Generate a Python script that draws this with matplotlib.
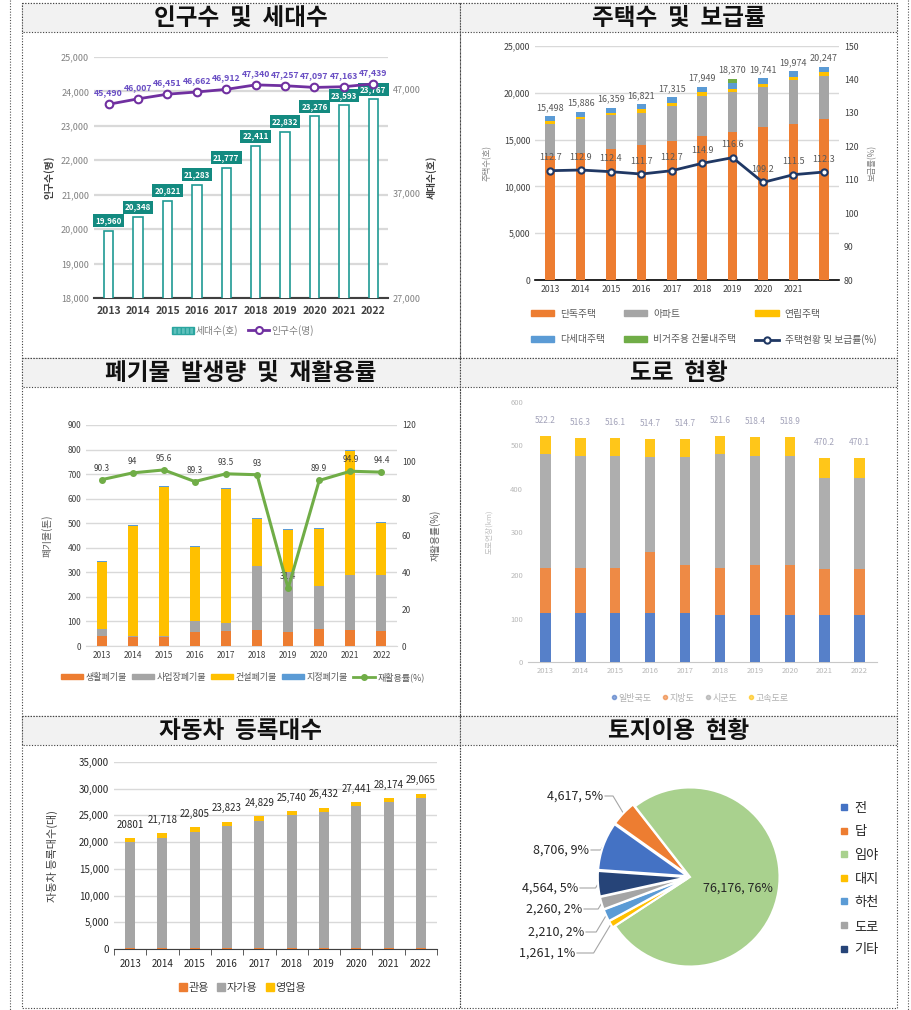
import numpy as np
import matplotlib
matplotlib.use('Agg')
import matplotlib.pyplot as plt
from matplotlib.patches import Rectangle, Patch
from matplotlib.lines import Line2D
from matplotlib.ticker import FuncFormatter

plt.rcParams['font.family'] = ['Noto Sans CJK KR', 'DejaVu Sans']

# ---- data ----
years = ['2013', '2014', '2015', '2016', '2017', '2018', '2019', '2020', '2021', '2022']

# 인구수 및 세대수
households = [19960, 20348, 20821, 21283, 21777, 22411, 22832, 23276, 23593, 23767]
population = [45490, 46007, 46451, 46662, 46912, 47340, 47257, 47097, 47163, 47439]

# 주택수 및 보급률
house_detached = [13245, 13600, 14030, 14380, 14810, 15340, 15770, 16300, 16620, 17150]
house_apt = [3410, 3550, 3550, 3480, 3830, 4330, 4330, 4330, 4790, 4690]
house_row = [355, 290, 280, 390, 320, 390, 355, 360, 320, 390]
house_multi = [500, 530, 535, 535, 570, 610, 565, 565, 570, 530]
house_nonres = [0, 0, 0, 0, 0, 0, 460, 0, 0, 0]
house_total = [15498, 15886, 16359, 16821, 17315, 17949, 18370, 19741, 19974, 20247]
house_rate = [112.7, 112.9, 112.4, 111.7, 112.7, 114.9, 116.6, 109.2, 111.5, 112.3]

# 폐기물 발생량 및 재활용률
waste_home = [41, 35, 38, 56, 60, 65, 58, 69, 66, 62]
waste_biz = [28, 7, 3, 47, 35, 259, 245, 174, 222, 226]
waste_build = [273, 448, 608, 300, 546, 195, 169, 233, 507, 214]
waste_spec = [4, 4, 4, 4, 4, 2, 4, 4, 3, 3]
recycle_rate = [90.3, 94, 95.6, 89.3, 93.5, 93, 31.4, 89.9, 94.9, 94.4]

# 도로 현황
road_national = [113.0, 113.0, 113.0, 113.0, 113.0, 109.5, 109.5, 109.5, 109.5, 109.5]
road_local = [104.0, 104.0, 104.0, 140.0, 112.0, 108.0, 114.0, 114.0, 104.5, 104.5]
road_county = [262.0, 258.0, 258.0, 220.0, 248.0, 262.0, 253.0, 253.0, 210.0, 210.0]
road_express = [43.2, 41.3, 41.1, 41.7, 41.7, 42.1, 41.9, 42.4, 46.2, 46.1]

# 자동차 등록대수
car_gov = [130, 135, 140, 140, 145, 150, 150, 155, 160, 165]
car_private = [19871, 20713, 21795, 22883, 23814, 24910, 25532, 26606, 27334, 28030]
car_business = [800, 870, 870, 800, 870, 680, 750, 680, 680, 870]
car_labels = ['20801', '21,718', '22,805', '23,823', '24,829', '25,740', '26,432', '27,441', '28,174', '29,065']

# 토지이용 현황
land_names = ['전', '답', '임야', '대지', '하천', '도로', '기타']
land_vals = [8706, 4617, 76176, 1261, 2210, 2260, 4564]

# ---- layout helpers ----
W, H = 912, 1010
fig = plt.figure(figsize=(W / 100, H / 100), dpi=100)

def box(x0, y0, x1, y1):
    return [x0 / W, 1 - y1 / H, (x1 - x0) / W, (y1 - y0) / H]

comma = FuncFormatter(lambda v, p: f'{v:,.0f}')
dotted = (0, (1, 1.5))
x = np.arange(len(years))

bg = fig.add_axes([0, 0, 1, 1])
bg.set_xlim(0, W)
bg.set_ylim(H, 0)
bg.axis('off')
bg.plot([10, 10], [0, H], ls=dotted, color='#555555', lw=0.8)
bg.plot([908, 908], [0, H], ls=dotted, color='#555555', lw=0.8)

panels = [(22, 3, 460, 358, '인구수 및 세대수'), (460, 3, 897, 358, '주택수 및 보급률'),
          (22, 358, 460, 716, '폐기물 발생량 및 재활용률'), (460, 358, 897, 716, '도로 현황'),
          (22, 716, 460, 1008, '자동차 등록대수'), (460, 716, 897, 1008, '토지이용 현황')]
for x0, y0, x1, y1, t in panels:
    bg.add_patch(Rectangle((x0, y0), x1 - x0, y1 - y0, fill=False, ls=dotted, lw=0.8, ec='#404040'))
    bg.add_patch(Rectangle((x0, y0), x1 - x0, 29, fc='#f2f2f2', ec='#404040', ls=dotted, lw=0.8))
    bg.text((x0 + x1) / 2, y0 + 15, t.replace(' ', '  '), ha='center', va='center',
            fontsize=17, fontweight='bold', color='#111111')

def clean(ax, grid=True):
    ax.set_facecolor('none')
    for s in ['top', 'left', 'right']:
        ax.spines[s].set_visible(False)
    ax.tick_params(length=0)
    if grid:
        ax.yaxis.grid(True, color='#d9d9d9', lw=1)
        ax.set_axisbelow(True)

# ---- 1. 인구수 및 세대수 ----
ax1 = fig.add_axes(box(94, 57, 388, 298))
clean(ax1)
ax1.yaxis.grid(True, color='#d9d9d9', lw=1.6)
ax1.bar(x, households, width=0.32, color='white', edgecolor='#1f9a93', lw=1.2, zorder=3)
ax1.set_ylim(18000, 25000)
ax1.set_yticks(range(18000, 25001, 1000))
ax1.yaxis.set_major_formatter(comma)
ax1.set_xlim(-0.5, 9.5)
ax1.set_xticks(x, years)
ax1.spines['bottom'].set_color('#404040')
ax1.spines['bottom'].set_linewidth(1.5)
ax1.tick_params(axis='y', labelsize=6.5, labelcolor='#808080')
ax1.tick_params(axis='x', labelsize=7.5, labelcolor='#404040', pad=6)
for lbl in ax1.get_xticklabels():
    lbl.set_fontweight('bold')
for i, v in enumerate(households):
    ax1.annotate(f'{v:,}', (i, v), xytext=(0, 4), textcoords='offset points', ha='center', va='bottom',
                 fontsize=5.8, color='white', fontweight='bold', zorder=5,
                 bbox=dict(boxstyle='square,pad=0.25', fc='#138a80', ec='none'))
ax1.set_ylabel('인구수(명)', fontsize=7, fontweight='bold', color='#404040')
ax1.yaxis.set_label_coords(-0.135, 0.5)

ax1b = ax1.twinx()
clean(ax1b, grid=False)
ax1b.spines['bottom'].set_visible(False)
ax1b.plot(x, population, color='#7030a0', lw=2, marker='o', ms=5.5, mfc='white', mec='#7030a0', mew=1.5, zorder=4)
ax1b.set_ylim(27000, 50000)
ax1b.set_yticks([27000, 37000, 47000])
ax1b.yaxis.set_major_formatter(comma)
ax1b.tick_params(axis='y', labelsize=6.5, labelcolor='#808080')
for i, v in enumerate(population):
    ax1b.annotate(f'{v:,}', (i, v), xytext=(0, 5), textcoords='offset points', ha='center', va='bottom',
                  fontsize=6.3, color='#6a4fc4', fontweight='bold')
ax1b.set_ylabel('세대수(호)', fontsize=7, fontweight='bold', color='#404040')
ax1b.yaxis.set_label_coords(1.128, 0.5)
h1 = [Patch(fc='#5ec0bc', ec='#2aa59f', hatch='||||'),
      Line2D([], [], color='#7030a0', lw=2, marker='o', ms=5, mfc='white', mew=1.5)]
ax1b.legend(h1, ['세대수(호)', '인구수(명)'], loc='center', bbox_to_anchor=(0.507, -0.135), ncol=2,
            frameon=False, fontsize=7, labelcolor='#808080', handlelength=2.2, columnspacing=1.0,
            handletextpad=0.2)

# ---- 2. 주택수 및 보급률 ----
ax2 = fig.add_axes(box(535, 46, 839, 280))
clean(ax2)
hs = [house_detached, house_apt, house_row, house_multi, house_nonres]
hc = ['#ed7d31', '#a5a5a5', '#ffc000', '#5b9bd5', '#70ad47']
hn = ['단독주택', '아파트', '연립주택', '다세대주택', '비거주용 건물내주택']
bottom = np.zeros(len(years))
for vals, c in zip(hs, hc):
    ax2.bar(x, vals, bottom=bottom, width=0.32, color=c, zorder=3)
    bottom += np.array(vals)
for i, t in enumerate(house_total):
    ax2.annotate(f'{t:,}', (i, bottom[i]), xytext=(0, 3), textcoords='offset points', ha='center',
                 va='bottom', fontsize=6.5, color='#595959')
ax2.set_ylim(0, 25000)
ax2.set_yticks(range(0, 25001, 5000))
ax2.yaxis.set_major_formatter(comma)
ax2.set_xlim(-0.5, 9.5)
ax2.set_xticks(x, years[:-1] + [''])
ax2.spines['bottom'].set_color('black')
ax2.spines['bottom'].set_linewidth(1.2)
ax2.tick_params(labelsize=6.3, labelcolor='#404040')
ax2.set_ylabel('주택수(호)', fontsize=6, color='#808080')
ax2.yaxis.set_label_coords(-0.141, 0.5)

ax2b = ax2.twinx()
clean(ax2b, grid=False)
ax2b.spines['bottom'].set_visible(False)
ax2b.plot(x, house_rate, color='#203864', lw=2, marker='o', ms=4.5, mfc='white', mec='#203864', mew=1.5, zorder=4)
for i, v in enumerate(house_rate):
    ax2b.annotate(f'{v}', (i, v), xytext=(0, 6), textcoords='offset points', ha='center', va='bottom',
                  fontsize=6.5, color='#595959')
ax2b.set_ylim(80, 150)
ax2b.set_yticks(range(80, 151, 10))
ax2b.tick_params(labelsize=6.3, labelcolor='#404040')
ax2b.set_ylabel('보급률(%)', fontsize=6, color='#808080')
ax2b.yaxis.set_label_coords(1.095, 0.5)
hp = [Patch(color=c) for c in hc]
hl = Line2D([], [], color='#203864', lw=2, marker='o', ms=4.5, mfc='white', mew=1.5)
order_h = [hp[0], hp[3], hp[1], hp[4], hp[2], hl]
order_n = [hn[0], hn[3], hn[1], hn[4], hn[2], '주택현황 및 보급률(%)']
ax2b.legend(order_h, order_n, loc='upper left', bbox_to_anchor=box(522, 300, 885, 350),
            bbox_transform=fig.transFigure, mode='expand', ncol=3, frameon=False, fontsize=7,
            labelcolor='#595959', handlelength=2.4, handleheight=0.55, labelspacing=1.6, handletextpad=0.6)

# ---- 3. 폐기물 발생량 및 재활용률 ----
ax3 = fig.add_axes(box(86, 425, 397, 646))
clean(ax3)
ws = [waste_home, waste_biz, waste_build, waste_spec]
wc = ['#ed7d31', '#a5a5a5', '#ffc000', '#5b9bd5']
wn = ['생활폐기물', '사업장폐기물', '건설폐기물', '지정폐기물']
bottom = np.zeros(len(years))
for vals, c in zip(ws, wc):
    ax3.bar(x, vals, bottom=bottom, width=0.32, color=c, zorder=3)
    bottom += np.array(vals)
ax3.set_ylim(0, 900)
ax3.set_yticks(range(0, 901, 100))
ax3.set_xlim(-0.5, 9.5)
ax3.set_xticks(x, years)
ax3.spines['bottom'].set_color('#d9d9d9')
ax3.tick_params(labelsize=6, labelcolor='#404040')
ax3.set_ylabel('폐기물(톤)', fontsize=7, color='#595959')
ax3.yaxis.set_label_coords(-0.109, 0.5)

ax3b = ax3.twinx()
clean(ax3b, grid=False)
ax3b.spines['bottom'].set_visible(False)
ax3b.plot(x, recycle_rate, color='#70ad47', lw=2.2, marker='o', ms=4, zorder=4)
for i, v in enumerate(recycle_rate):
    ax3b.annotate(f'{v:g}', (i, v), xytext=(0, 5), textcoords='offset points', ha='center', va='bottom',
                  fontsize=6, color='#404040')
ax3b.set_ylim(0, 120)
ax3b.set_yticks(range(0, 121, 20))
ax3b.tick_params(labelsize=6, labelcolor='#404040')
ax3b.set_ylabel('재활용률(%)', fontsize=7, color='#595959')
ax3b.yaxis.set_label_coords(1.106, 0.5)
h3 = [Patch(color=c) for c in wc] + [Line2D([], [], color='#70ad47', lw=2, marker='o', ms=4)]
ax3b.legend(h3, wn + ['재활용률(%)'], loc='center', bbox_to_anchor=box(40, 668, 446, 686),
            bbox_transform=fig.transFigure, ncol=5, frameon=False, fontsize=6.5, labelcolor='#595959',
            handlelength=2.4, handleheight=0.55, columnspacing=0.6, handletextpad=0.3)

# ---- 4. 도로 현황 (blurry in source) ----
ax4 = fig.add_axes(box(528, 402, 877, 662))
clean(ax4, grid=False)
rs = [road_national, road_local, road_county, road_express]
rc = ['#4472c4', '#ed7d31', '#a5a5a5', '#ffc000']
rn = ['일반국도', '지방도', '시군도', '고속도로']
bottom = np.zeros(len(years))
for vals, c in zip(rs, rc):
    ax4.bar(x, vals, bottom=bottom, width=0.3, color=c, alpha=0.9, zorder=3)
    bottom += np.array(vals)
for i, t in enumerate(bottom):
    ax4.annotate(f'{t:.1f}', (i, t), xytext=(0, 8), textcoords='offset points', ha='center',
                 va='bottom', fontsize=6, color='#8c8ca8', alpha=0.8)
ax4.set_ylim(0, 600)
ax4.set_yticks(range(0, 601, 100))
ax4.set_xlim(-0.5, 9.5)
ax4.set_xticks(x, years)
ax4.spines['bottom'].set_color('#c8c8c8')
ax4.tick_params(labelsize=5.5, labelcolor='#b8b8b8')
ax4.set_ylabel('도로연장(km)', fontsize=5.5, color='#c0c0c0')
ax4.yaxis.set_label_coords(-0.1, 0.5)
h4 = [Line2D([], [], ls='', marker='o', ms=3, color=c, alpha=0.6) for c in rc]
ax4.legend(h4, rn, loc='center', bbox_to_anchor=box(540, 690, 860, 706), bbox_transform=fig.transFigure,
           ncol=4, frameon=False, fontsize=6.5, labelcolor='#b0b0b0', handlelength=0.6,
           columnspacing=1.2, handletextpad=0.2)

# ---- 5. 자동차 등록대수 ----
ax5 = fig.add_axes(box(114, 762, 437, 949))
clean(ax5)
cs = [car_gov, car_private, car_business]
cc = ['#ed7d31', '#a5a5a5', '#ffc000']
cn = ['관용', '자가용', '영업용']
bottom = np.zeros(len(years))
for vals, c in zip(cs, cc):
    ax5.bar(x, vals, bottom=bottom, width=0.31, color=c, zorder=3)
    bottom += np.array(vals)
for i, t in enumerate(car_labels):
    ax5.annotate(t, (i, bottom[i]), xytext=(0, 6), textcoords='offset points', ha='center',
                 va='bottom', fontsize=7, color='#262626')
ax5.set_ylim(0, 35000)
ax5.set_yticks(range(0, 35001, 5000))
ax5.yaxis.set_major_formatter(comma)
ax5.set_xlim(-0.5, 9.5)
ax5.set_xticks(x, years)
ax5.set_xticks(np.arange(-0.5, 10, 1), minor=True)
ax5.tick_params(axis='x', which='minor', length=4, color='#404040')
ax5.spines['bottom'].set_color('#404040')
ax5.tick_params(labelsize=7, labelcolor='#262626')
ax5.tick_params(axis='x', pad=7)
ax5.set_ylabel('자동차 등록대수(대)', fontsize=8, color='#404040')
ax5.yaxis.set_label_coords(-0.173, 0.5)
h5 = [Line2D([], [], ls='', marker='s', ms=6, color=c) for c in cc]
ax5.legend(h5, cn, loc='center', bbox_to_anchor=box(150, 980, 336, 996), bbox_transform=fig.transFigure,
           ncol=3, frameon=False, fontsize=8, labelcolor='#404040', handlelength=0.6,
           columnspacing=0.8, handletextpad=0.2)

# ---- 6. 토지이용 현황 ----
lc = ['#4472c4', '#ed7d31', '#a9d18e', '#ffc000', '#5b9bd5', '#a5a5a5', '#264478']
ax6 = fig.add_axes(box(596, 783, 784, 971))
wedges, _ = ax6.pie(land_vals, colors=lc, startangle=176, counterclock=False,
                    explode=[0.03, 0.03, 0, 0.03, 0.03, 0.03, 0.03],
                    wedgeprops=dict(edgecolor='white', linewidth=1.5))
ax6.set_xlim(-1.05, 1.05)
ax6.set_ylim(-1.05, 1.05)
ax6.set_aspect('equal')
total = sum(land_vals)
pct = [f'{v:,}, {round(v / total * 100)}%' for v in land_vals]
ax6.text(0.54, -0.12, pct[2], ha='center', va='center', fontsize=9, color='#262626')
text_pos = {'답': (603, 796), '전': (589, 850), '기타': (578, 888), '도로': (582, 909),
            '하천': (584, 932), '대지': (575, 953)}
inv = bg.transData.inverted()
for w, name, s in zip(wedges, land_names, pct):
    if name not in text_pos:
        continue
    tx, ty = text_pos[name]
    a = np.deg2rad((w.theta1 + w.theta2) / 2)
    pt = (w.center[0] + w.r * np.cos(a), w.center[1] + w.r * np.sin(a))
    px, py = inv.transform(ax6.transData.transform(pt))
    cx = max(tx + 5, px - abs(py - ty) * 0.6)
    bg.plot([tx + 2, cx, px], [ty, ty, py], color='#a6a6a6', lw=0.8)
    bg.text(tx, ty, s, ha='right', va='center', fontsize=9, color='#262626')
h6 = [Line2D([], [], ls='', marker='s', ms=5, color=c) for c in lc]
fig.legend(h6, land_names, loc='upper left', bbox_to_anchor=(828 / W, 1 - 790 / H), frameon=False,
           fontsize=9.5, labelcolor='#262626', handlelength=0.7, handletextpad=0.4, labelspacing=0.8)

fig.savefig('out.png', dpi=100)
